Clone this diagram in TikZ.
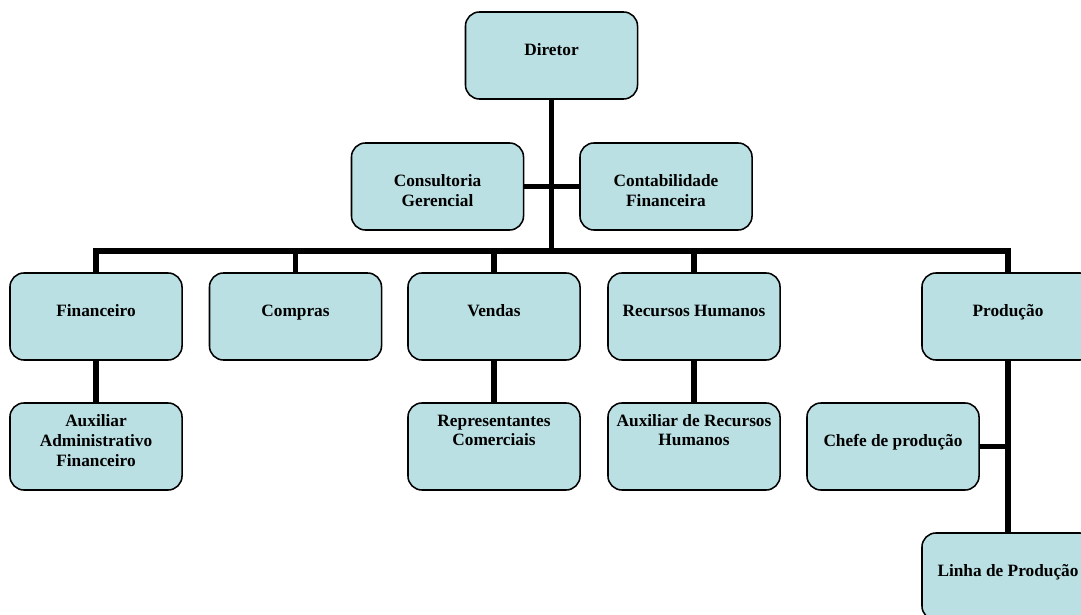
\documentclass[tikz,border=0pt]{standalone}
\usepackage{fontspec}
\setmainfont{Liberation Serif}
\usepackage{tikz}
\definecolor{orgfill}{RGB}{186,224,227}

\begin{document}
\begin{tikzpicture}[x=0.025cm, y=-0.025cm,
  font=\bfseries\fontsize{12.3}{14.2}\selectfont,
  orgbox/.style={draw, line width=1.1pt, rounded corners=0.35cm, fill=orgfill, align=center,
    minimum width=4.3cm, inner xsep=1pt, inner ysep=0pt},
  tbox/.style 2 args={orgbox, text height=#1, text depth=#2},
  hibox/.style={tbox={1.08cm}{1.095cm}},
  hiboxii/.style={tbox={1.58cm}{0.595cm}},
  loboxii/.style={tbox={1.075cm}{1.1cm}},
  loboxiii/.style={tbox={1.575cm}{0.6cm}},
  conn/.style={line width=3.6pt}]
  \clip (0,0) rectangle (1081,615);
  % ---- top: director and staff ----
  \node[hibox]   (dir)  at (551.5,55.5)  {Diretor};
  \node[hiboxii] (cons) at (437.5,186.5) {Consultoria\\Gerencial};
  \node[hiboxii] (cont) at (666,186.5)   {Contabilidade\\Financeira};
  % ---- departments ----
  \node[hibox] (fin)  at (96,316.5)    {Financeiro};
  \node[hibox] (comp) at (295.5,316.5) {Compras};
  \node[hibox] (vend) at (494,316.5)   {Vendas};
  \node[hibox] (rh)   at (694,316.5)   {Recursos Humanos};
  \node[hibox] (prod) at (1008,316.5)  {Produção};
  % ---- sub-units ----
  \node[loboxiii] (auxadm) at (96,446.5)  {Auxiliar\\Administrativo\\Financeiro};
  \node[loboxii]  (rep)    at (494,446.5) {Representantes\\Comerciais};
  \node[loboxii]  (auxrh)  at (694,446.5) {Auxiliar de Recursos\\Humanos};
  \node[hibox]    (chefe)  at (893,446.5) {Chefe de produção};
  \node[hibox]    (linha)  at (1008,576.5) {Linha de Produção};
  % ---- connectors ----
  \coordinate (bus) at (551.5,251);
  \draw[conn] (dir.south) -- (dir.south |- bus);
  \draw[conn] (cons.east) -- (cont.west);
  \draw[conn] (fin.north) -- (fin.north |- bus) -- (prod.north |- bus) -- (prod.north);
  \foreach \d in {comp,vend,rh}
    \draw[conn] (\d.north) -- (\d.north |- bus);
  \draw[conn] (fin.south) -- (auxadm.north);
  \draw[conn] (vend.south) -- (rep.north);
  \draw[conn] (rh.south) -- (auxrh.north);
  \draw[conn] (prod.south) -- (linha.north);
  \draw[conn] (chefe.east) -- (chefe.east -| prod.south);
\end{tikzpicture}
\end{document}
